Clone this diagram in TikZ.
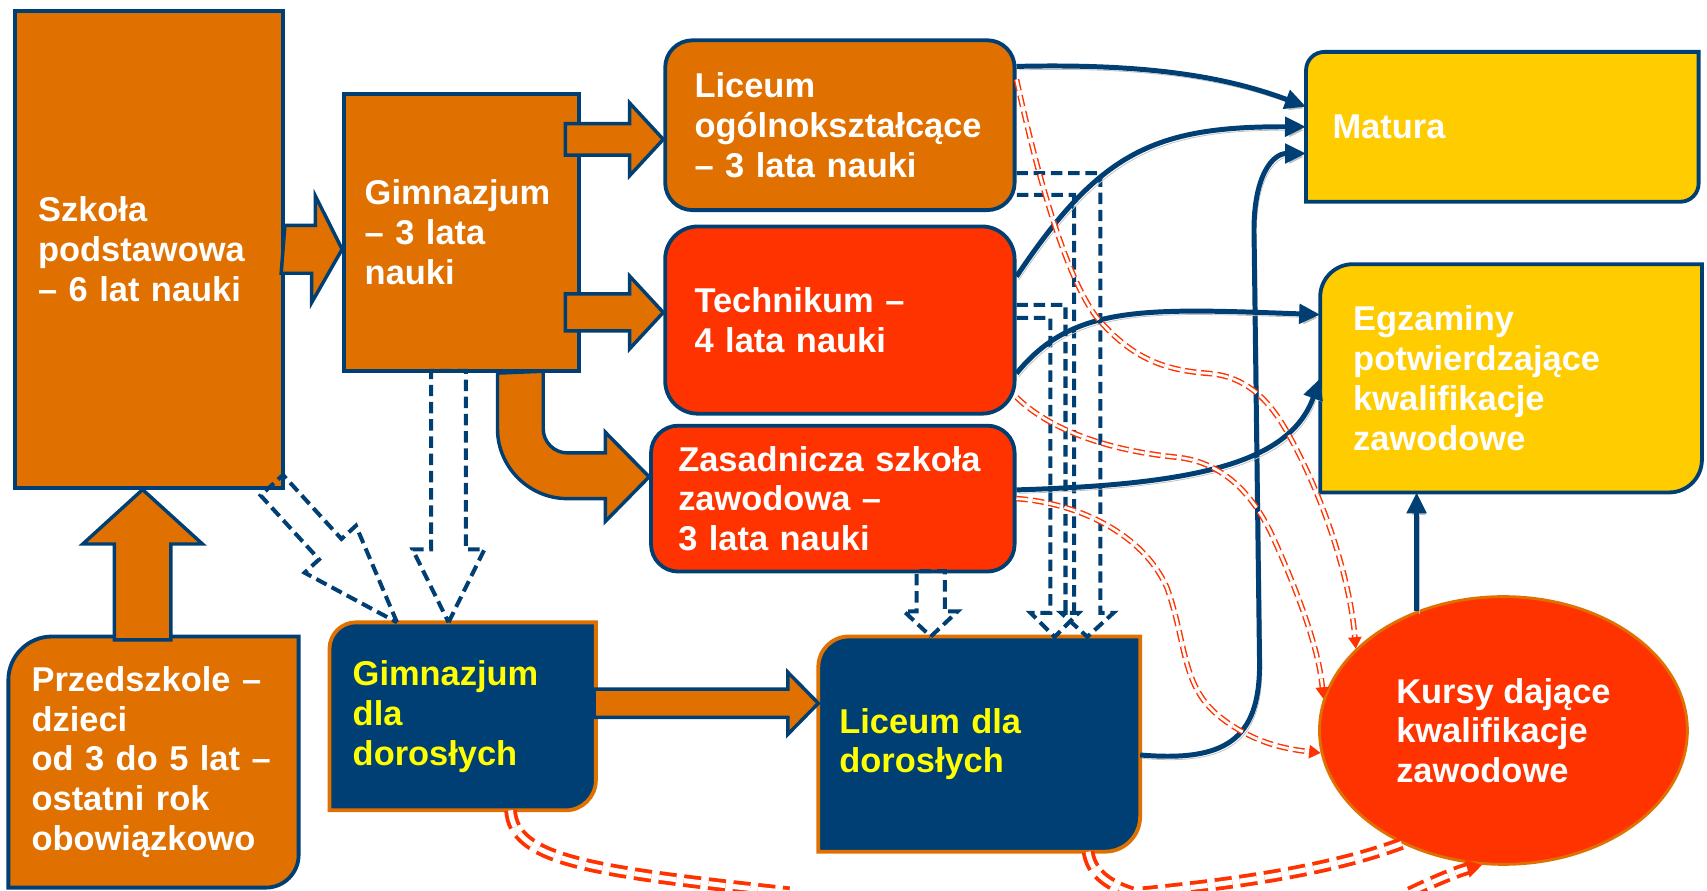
\documentclass[tikz,border=0pt]{standalone}
\usepackage{fontspec}
\setmainfont{Liberation Sans}
\usetikzlibrary{arrows.meta,shapes.geometric}
\pgfdeclarelayer{background}
\pgfsetlayers{background,main}
\definecolor{darkorange}{HTML}{E07000}
\definecolor{brightred}{HTML}{FF3300}
\definecolor{darkblue}{HTML}{003F73}
\definecolor{gold}{HTML}{FFCC00}
\definecolor{textyellow}{HTML}{FFFF00}

\begin{document}
\begin{tikzpicture}[x=0.02cm, y=-0.02cm,
  every node/.style={font=\bfseries\fontsize{18}{20.8}\selectfont, text=white, align=left, inner ysep=0pt},
  box/.style={draw=darkblue, line width=2pt},
  blockarrow/.style={draw=darkblue, line width=1.8pt, fill=darkorange},
  dashblock/.style={draw=darkblue, line width=2.1pt, dash pattern=on 6pt off 3pt},
  link/.style={draw=darkblue, line width=2.6pt, -{Triangle[length=11pt,width=10pt]}, preaction={draw=black!25, transform canvas={shift={(1.2pt,-1.8pt)}}}},
  redlink/.style={draw=brightred, line width=0.75pt, double=white, double distance=1.4pt, dash pattern=on 6pt off 2.5pt},
  redthick/.style={draw=brightred, line width=2pt, double=white, double distance=2.6pt, dash pattern=on 9pt off 4pt}]
\useasboundingbox (0,0) rectangle (1568,818);
\node[box, fill=darkorange, text width=4.08cm, inner xsep=0.42cm, minimum height=8.76cm] (szkola) at (137,229) {Szkoła\\podstawowa\\– 6 lat nauki};
\node[box, fill=darkorange, text width=3.56cm, inner xsep=0.38cm, minimum height=5.1cm] (gimn) at (424,213.5) {Gimnazjum\\– 3 lata\\nauki};
\node[box, fill=darkorange, rounded corners=0.5cm, text width=5.34cm, inner xsep=0.54cm, minimum height=3.12cm] (lic) at (771.5,115) {Liceum\\ogólnokształcące\\– 3 lata nauki};
\node[box, fill=brightred, rounded corners=0.6cm, text width=5.34cm, inner xsep=0.54cm, minimum height=3.44cm] (tech) at (771.5,294) {Technikum –\\4 lata nauki};
\node[box, fill=brightred, rounded corners=0.5cm, text width=5.68cm, inner xsep=0.5cm, minimum height=2.68cm] (zas) at (765,458) {Zasadnicza szkoła\\zawodowa –\\3 lata nauki};
\node[text width=6.24cm, inner xsep=0.48cm, minimum height=2.74cm] (matura) at (1380,116.5) {Matura};
\node[text width=5.8cm, inner xsep=0.6cm, minimum height=4.18cm] (egz) at (1388,347.5) {Egzaminy\\potwierdzające\\kwalifikacje\\zawodowe};
\node[ellipse, draw=darkorange, line width=1.5pt, fill=brightred, minimum width=6.76cm, minimum height=4.92cm] (kursy) at (1381,671) {Kursy dające\\kwalifikacje\\zawodowe};
\node[text width=4.48cm, inner xsep=0.42cm, minimum height=4.6cm] (przed) at (141,700) {Przedszkole –\\dzieci\\od 3 do 5 lat –\\ostatni rok\\obowiązkowo};
\node[text=textyellow, text width=4.04cm, inner xsep=0.42cm, minimum height=3.44cm] (gimnd) at (425,658) {Gimnazjum\\dla\\dorosłych};
\node[text=textyellow, text width=5.14cm, inner xsep=0.38cm, minimum height=3.94cm] (lyd) at (899.5,683.5) {Liceum dla\\dorosłych};
\begin{pgfonlayer}{background}
\draw[box, fill=gold] (matura.south west) -- ([yshift=-0.34cm]matura.north west) .. controls ([yshift=-0.15cm]matura.north west) and ([xshift=0.15cm]matura.north west) .. ([xshift=0.34cm]matura.north west) -- (matura.north east) -- ([yshift=0.34cm]matura.south east) .. controls ([yshift=0.15cm]matura.south east) and ([xshift=-0.15cm]matura.south east) .. ([xshift=-0.34cm]matura.south east) -- cycle;
\draw[box, fill=gold] (egz.south west) -- ([yshift=-0.6cm]egz.north west) .. controls ([yshift=-0.27cm]egz.north west) and ([xshift=0.27cm]egz.north west) .. ([xshift=0.6cm]egz.north west) -- (egz.north east) -- ([yshift=0.6cm]egz.south east) .. controls ([yshift=0.27cm]egz.south east) and ([xshift=-0.27cm]egz.south east) .. ([xshift=-0.6cm]egz.south east) -- cycle;
\draw[box, fill=darkorange] (przed.south west) -- ([yshift=-0.8cm]przed.north west) .. controls ([yshift=-0.36cm]przed.north west) and ([xshift=0.36cm]przed.north west) .. ([xshift=0.8cm]przed.north west) -- (przed.north east) -- ([yshift=0.6cm]przed.south east) .. controls ([yshift=0.27cm]przed.south east) and ([xshift=-0.27cm]przed.south east) .. ([xshift=-0.6cm]przed.south east) -- cycle;
\draw[box, draw=darkorange, fill=darkblue] (gimnd.south west) -- ([yshift=-0.48cm]gimnd.north west) .. controls ([yshift=-0.22cm]gimnd.north west) and ([xshift=0.22cm]gimnd.north west) .. ([xshift=0.48cm]gimnd.north west) -- (gimnd.north east) -- ([yshift=0.55cm]gimnd.south east) .. controls ([yshift=0.25cm]gimnd.south east) and ([xshift=-0.25cm]gimnd.south east) .. ([xshift=-0.55cm]gimnd.south east) -- cycle;
\draw[box, draw=darkorange, fill=darkblue] (lyd.south west) -- ([yshift=-0.56cm]lyd.north west) .. controls ([yshift=-0.25cm]lyd.north west) and ([xshift=0.25cm]lyd.north west) .. ([xshift=0.56cm]lyd.north west) -- (lyd.north east) -- ([yshift=0.65cm]lyd.south east) .. controls ([yshift=0.29cm]lyd.south east) and ([xshift=-0.29cm]lyd.south east) .. ([xshift=-0.65cm]lyd.south east) -- cycle;
\end{pgfonlayer}
\draw[blockarrow] ([yshift=0.44cm]szkola.east) -- ++(28,0) -- ++(0,-27) -- (gimn.west |- szkola.east) -- ++(-28,49) -- ++(0,-27) -- ++(-28,0) -- cycle;
\draw[blockarrow] ([yshift=-0.26cm]lic.west) -- ++(-31,-33.5) -- ++(0,19) -- ++(-59,0) -- ++(0,29) -- ++(59,0) -- ++(0,19) -- cycle;
\draw[blockarrow] ([yshift=0.14cm]tech.west) -- ++(-31,-33.5) -- ++(0,16.5) -- ++(-59,0) -- ++(0,34) -- ++(59,0) -- ++(0,16.5) -- cycle;
\draw[blockarrow] ([yshift=0.75cm]lyd.west) -- ++(-28,-28.5) -- ++(0,15.5) -- ++(-178,0) -- ++(0,26) -- ++(178,0) -- ++(0,15.5) -- cycle;
\draw[blockarrow] ([xshift=-0.12cm]szkola.south) -- ++(55,50) -- ++(-29,0) -- ++(0,88) -- ++(-52,0) -- ++(0,-88) -- ++(-29,0) -- cycle;
\draw[blockarrow] ([xshift=0.66cm]gimn.south) -- (457,394) .. controls (457,429) and (486,458) .. (521,458) -- (556,458) -- (556,479) -- ([yshift=0.4cm]zas.west) -- (556,397) -- (556,416) -- (521,416) .. controls (509,416) and (499,406) .. (499,394) -- (499,341) -- cycle;
\draw[dashblock] ([xshift=-0.26cm]gimnd.north) -- ++(33,-67) -- ++(-17,0) -- ++(0,-164) -- ++(-32,0) -- ++(0,164) -- ++(-17,0) -- cycle;
\draw[dashblock] ([xshift=1.24cm]gimnd.north west) -- ++(-37.7,-88.8) -- ++(-13.3,12.2) -- ++(-53.7,-58.8) -- ++(-20.6,18.8) -- ++(53.7,58.8) -- ++(-13.3,12.2) -- cycle;
\draw[dashblock] ([xshift=-0.89cm]lyd.north) -- ++(24.5,-23) -- ++(-11.5,0) -- ++(0,-37) -- ++(-26,0) -- ++(0,37) -- ++(-11.5,0) -- cycle;
\draw[dashblock] ([yshift=-0.88cm]lic.east) -- ++(77,0) -- ++(0,404) -- ++(12,0) -- ++(-24,22) -- ++(-24,-22) -- ++(12,0) -- ++(0,-384) -- ++(-53,0);
\draw[dashblock] ([yshift=0.28cm]tech.east) -- ++(45,0) -- ++(0,283) -- ++(12,0) -- ++(-22,22) -- ++(-22,-22) -- ++(18,0) -- ++(0,-271) -- ++(-31,0);
\draw[link] ([yshift=1.08cm]lic.east) .. controls (1060,58) and (1130,72) .. ([yshift=0.37cm]matura.west);
\draw[link] ([yshift=0.8cm]tech.east) .. controls (1010,140) and (1060,116) .. (matura.west);
\draw[link] ([yshift=-0.2cm]lyd.east) .. controls (1125,700) and (1157,680) .. (1157,610) -- (1152,220) .. controls (1150,160) and (1170,141) .. ([yshift=-0.49cm]matura.west);
\draw[link] ([yshift=-0.98cm]tech.east) .. controls (985,280) and (1050,283) .. ([yshift=1.17cm]egz.west);
\draw[link] ([yshift=0.16cm]zas.east) .. controls (1100,445) and (1185,425) .. (egz.west);
\draw[link] (kursy.126) -- (kursy.126 |- egz.south);
\draw[redlink, -{Triangle[length=6pt,width=7pt]}] ([yshift=0.84cm]lic.east) .. controls (955,170) and (980,255) .. (1007,291) .. controls (1040,330) and (1070,340) .. (1110,343) .. controls (1150,346) and (1170,375) .. (1183,398) .. controls (1215,455) and (1240,530) .. (kursy.151);
\draw[redlink, -{Triangle[length=6pt,width=7pt]}] ([yshift=-1.42cm]tech.east) .. controls (970,400) and (1030,415) .. (1081,420) .. controls (1120,424) and (1150,450) .. (1170,495) .. controls (1195,550) and (1212,600) .. (kursy.170);
\draw[redlink, -{Triangle[length=6pt,width=7pt]}] (zas.east) .. controls (990,462) and (1050,490) .. (1072,540) .. controls (1090,590) and (1085,630) .. (1120,658) .. controls (1150,682) and (1180,688) .. (kursy.187);
\coordinate (exita) at (725,820);
\coordinate (exitb) at (1040,820);
\coordinate (exitc) at (1050,820);
\coordinate (exitd) at (1295,820);
\draw[redthick] ([xshift=0.88cm]gimnd.south) .. controls (472,790) and (540,800) .. (exita);
\draw[redthick] ([xshift=2cm]lyd.south) .. controls (1002,800) and (1015,812) .. (exitb);
\draw[redthick] (kursy.228) .. controls (1220,800) and (1130,812) .. (exitc);
\draw[redthick, -{Triangle[length=8pt,width=9pt]}] (exitd) .. controls (1320,808) and (1340,800) .. (kursy.261);
\end{tikzpicture}
\end{document}
